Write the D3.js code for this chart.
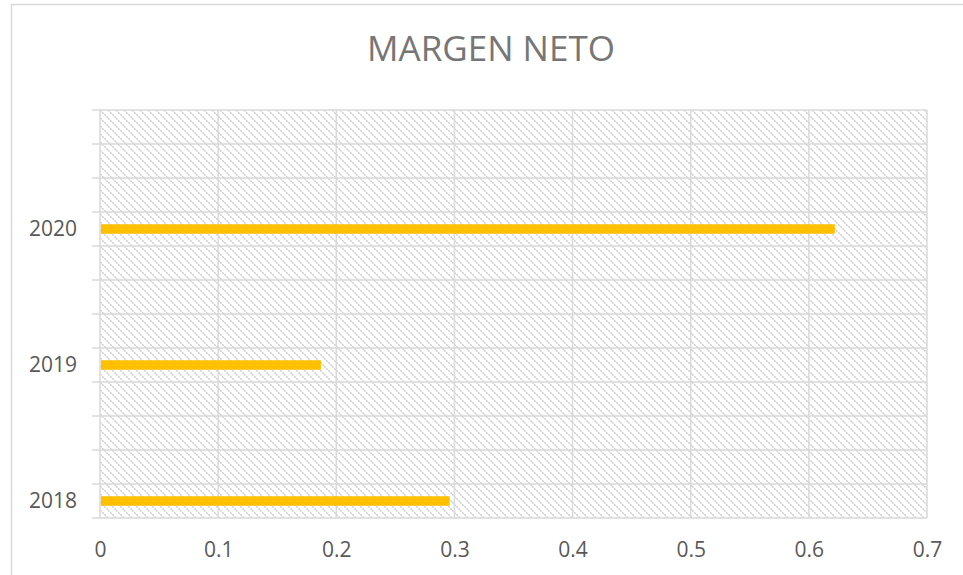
<!DOCTYPE html>
<html>
<head>
  <meta charset="UTF-8">
  <title>Margen neto</title>
  <script src="https://cdn.jsdelivr.net/npm/d3@7"></script>
  <style>
    body { margin: 0; background: #fff; }
    text { font-family: "Open Sans", "Liberation Sans", sans-serif; }
  </style>
</head>
<body>

<div class="chart"></div>

<script>

  var years = ['2018', '2019', '2020'];
  var margenNeto = [0.296, 0.187, 0.622];
  var xTicks = [0, 0.1, 0.2, 0.3, 0.4, 0.5, 0.6, 0.7];
  var title = 'MARGEN NETO';

  var margin = { top: 110, right: 36, bottom: 57, left: 100 };
  var width = 963 - margin.left - margin.right;
  var height = 575 - margin.top - margin.bottom;

  var root = d3.select('.chart')
    .append('svg')
      .attr('width', 963)
      .attr('height', 575);

  // hatch fill of the plot area
  var pat = root.append('defs')
    .append('pattern')
      .attr('id', 'hatch')
      .attr('patternUnits', 'userSpaceOnUse')
      .attr('width', 8)
      .attr('height', 8);
  pat.append('path')
    .attr('d', 'M-2,-2 L10,10 M-2,6 L2,10 M6,-2 L10,2')
    .attr('stroke', '#cccccc')
    .attr('stroke-width', 1.4)
    .attr('stroke-dasharray', '2,1');

  // chart border
  root.append('rect')
    .attr('x', 11.5).attr('y', 4.5)
    .attr('width', 1000).attr('height', 1000)
    .attr('fill', 'none')
    .attr('stroke', '#d9d9d9')
    .attr('stroke-width', 1.5);

  root.append('text')
    .attr('x', 491)
    .attr('y', 61)
    .attr('text-anchor', 'middle')
    .style('font-size', '35px')
    .style('fill', '#767676')
    .text(title);

  var svg = root.append('g')
    .attr('transform', 'translate(' + margin.left + ',' + margin.top + ')');

  var xScale = d3.scaleLinear()
    .domain([0, 0.7])
    .range([0, width]);

  // top category first, 4 sub rows per category
  var yScale = d3.scaleBand()
    .domain(years.slice().reverse())
    .range([0, height]);
  var sub = yScale.bandwidth() / 4;

  svg.append('rect')
    .attr('width', width)
    .attr('height', height)
    .attr('fill', 'url(#hatch)');

  // horizontal grid, one line per sub row
  var rows = d3.range(0, years.length * 4 + 1);
  svg.selectAll('.hgrid')
    .data(rows)
    .enter()
    .append('line')
      .attr('class', 'hgrid')
      .attr('x1', -8)
      .attr('x2', width)
      .attr('y1', d => d * sub)
      .attr('y2', d => d * sub)
      .attr('stroke', '#d9d9d9')
      .attr('stroke-width', 1.5);

  // vertical grid
  svg.selectAll('.vgrid')
    .data(xTicks)
    .enter()
    .append('line')
      .attr('class', 'vgrid')
      .attr('x1', d => xScale(d))
      .attr('x2', d => xScale(d))
      .attr('y1', 0)
      .attr('y2', height)
      .attr('stroke', '#d9d9d9')
      .attr('stroke-width', 1.5);

  // bars sit in the bottom sub row of each category
  var barH = 9.5;
  svg.selectAll('.bar')
    .data(years)
    .enter()
    .append('rect')
      .attr('class', 'bar')
      .attr('x', xScale(0) + 1)
      .attr('y', d => yScale(d) + sub * 3.5 - barH / 2)
      .attr('width', (d, i) => xScale(margenNeto[i]) - xScale(0) - 1)
      .attr('height', barH)
      .attr('fill', '#ffc000');

  // axis labels
  var xAxis = d3.axisBottom(xScale)
    .tickValues(xTicks)
    .tickSize(0)
    .tickPadding(24)
    .tickFormat(d => String(+d.toFixed(1)));
  svg.append('g')
      .attr('transform', 'translate(0,' + height + ')')
      .call(xAxis)
      .call(g => g.select('.domain').remove())
      .selectAll('text')
        .style('font-size', '21px')
        .style('fill', '#595959')
        .style('font-family', '"Open Sans", sans-serif');

  var yAxis = d3.axisLeft(yScale)
    .tickSize(0)
    .tickPadding(23);
  svg.append('g')
      .call(yAxis)
      .call(g => g.select('.domain').remove())
      .selectAll('.tick')
        .attr('transform', d => 'translate(0,' + (yScale(d) + sub * 3.5) + ')')
      .select('text')
        .style('font-size', '21px')
        .style('fill', '#595959')
        .style('font-family', '"Open Sans", sans-serif');

</script>

</body>
</html>
